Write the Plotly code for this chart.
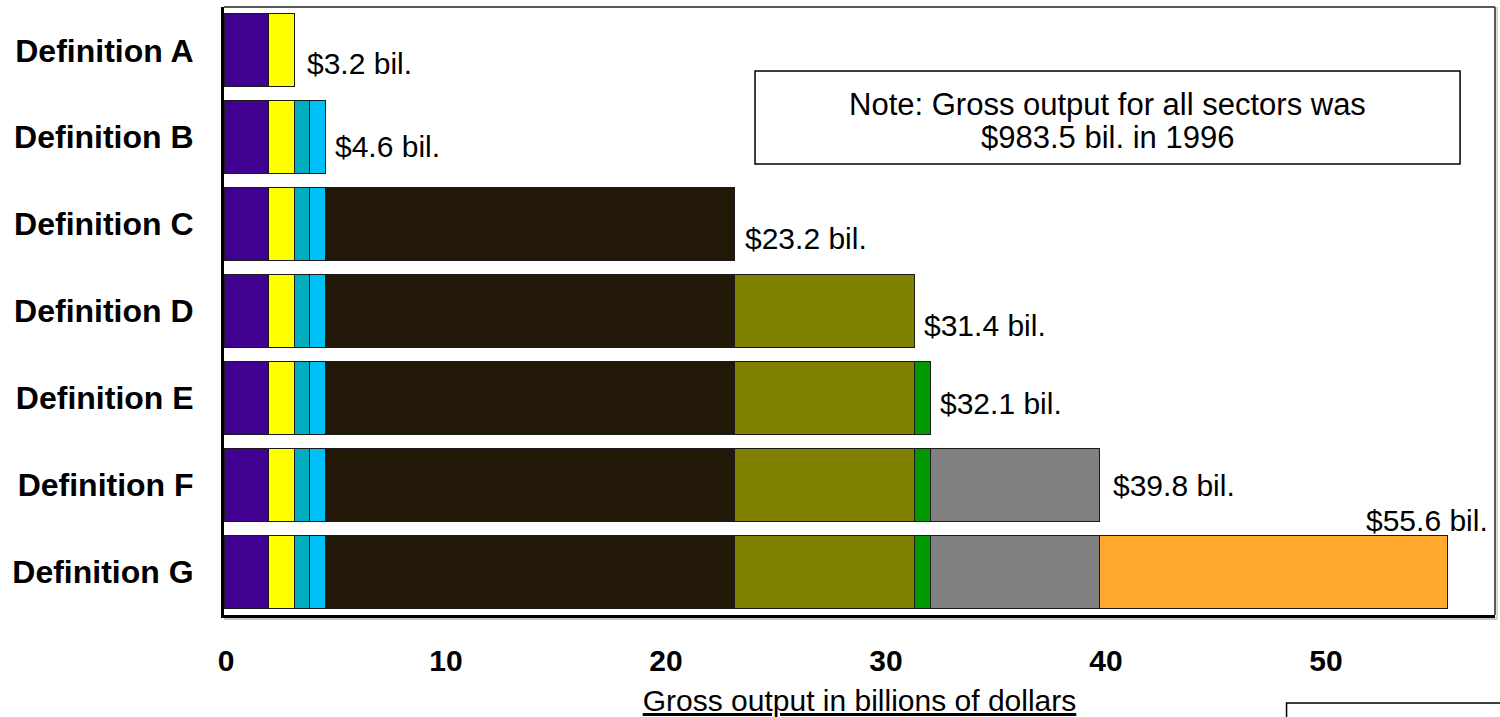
import plotly.graph_objects as go

# ---- data ----
definitions = ["Definition A", "Definition B", "Definition C", "Definition D",
               "Definition E", "Definition F", "Definition G"]
segment_names = ["Seg 1", "Seg 2", "Seg 3", "Seg 4", "Seg 5", "Seg 6", "Seg 7", "Seg 8", "Seg 9"]
segment_values = [2.0, 1.2, 0.7, 0.7, 18.6, 8.2, 0.7, 7.7, 15.8]
# index of the first definition that includes each segment
segment_first_def = [0, 0, 1, 1, 2, 3, 4, 5, 6]
x_ticks = [0, 10, 20, 30, 40, 50]
axis_title = "Gross output in billions of dollars"
note_lines = ["Note: Gross output for all sectors was", "$983.5 bil. in 1996"]

# ---- styles ----
colors = ["#400090", "#FFFF00", "#00AEBE", "#00C0F8", "#211808",
          "#808000", "#009A00", "#808080", "#FFAA2E"]
# label pixel offsets (xshift, yshift, xanchor) per definition
label_offsets = [(11, -13, "left"), (8, -9, "left"), (9, -14, "left"), (7, -14, "left"),
                 (8, -6, "left"), (11, -1, "left"), (43, 51, "right")]
FONT = "Arial, Liberation Sans, sans-serif"

fig = go.Figure()
for i, (name, val) in enumerate(zip(segment_names, segment_values)):
    xs = [val if d >= segment_first_def[i] else None for d in range(len(definitions))]
    fig.add_trace(go.Bar(
        y=definitions, x=xs, orientation="h", name=name,
        marker=dict(color=colors[i], line=dict(color="#1a1a1a", width=1)),
        showlegend=False, hoverinfo="skip"))

totals = []
for d in range(len(definitions)):
    totals.append(round(sum(v for v, f in zip(segment_values, segment_first_def) if d >= f), 1))

for d, tot in enumerate(totals):
    dx, dy, anc = label_offsets[d]
    fig.add_annotation(x=tot, y=definitions[d], xref="x", yref="y",
                       text=f"${tot:.1f} bil.", showarrow=False,
                       xanchor=anc, yanchor="middle", xshift=dx, yshift=dy,
                       font=dict(family=FONT, size=30, color="black"))

# note box
fig.add_shape(type="rect", xref="paper", yref="paper",
              x0=0.4178, x1=0.9725, y0=0.7418, y1=0.8947,
              line=dict(color="black", width=1.5), fillcolor="white", layer="above")
for line_txt, ypos in zip(note_lines, [0.839, 0.785]):
    fig.add_annotation(xref="paper", yref="paper", x=0.695, y=ypos,
                       text=line_txt, showarrow=False,
                       xanchor="center", yanchor="middle", align="center",
                       font=dict(family=FONT, size=31, color="black"))

# frame: top and right thin lines, gray shadows
fig.add_shape(type="line", xref="paper", yref="paper", x0=0, x1=1, y0=1, y1=1,
              line=dict(color="#222", width=1.5))
fig.add_shape(type="line", xref="paper", yref="paper", x0=1, x1=1, y0=0, y1=1,
              line=dict(color="#222", width=1.5))
fig.add_shape(type="line", xref="paper", yref="paper", x0=0, x1=1.0016, y0=-0.0066, y1=-0.0066,
              line=dict(color="#b0b0b0", width=1.5))
fig.add_shape(type="line", xref="paper", yref="paper", x0=1.0016, x1=1.0016, y0=-0.0066, y1=1,
              line=dict(color="#b0b0b0", width=1))
# partial box at bottom right
fig.add_shape(type="rect", xref="paper", yref="paper",
              x0=0.836, x1=1.2, y0=-0.1447, y1=-0.3,
              line=dict(color="black", width=1.5))

fig.update_layout(
    width=1500, height=717,
    margin=dict(l=224, r=5, t=7, b=102),
    paper_bgcolor="white", plot_bgcolor="white",
    barmode="stack", bargap=0.16,
    font=dict(family=FONT, color="black"),
    xaxis=dict(range=[0, 57.77], tickvals=x_ticks, ticktext=[str(t) for t in x_ticks],
               showgrid=False, zeroline=False, ticks="",
               showline=True, linecolor="black", linewidth=3,
               tickfont=dict(family=FONT, size=30, color="black", weight="bold"),
               ticklabelstandoff=17, ticklabelshift=2,
               title=dict(text=f"<u>{axis_title}</u>", standoff=15,
                          font=dict(family=FONT, size=30, color="black"))),
    yaxis=dict(range=[len(definitions) - 0.5, -0.5], type="category",
               categoryorder="array", categoryarray=definitions,
               showgrid=False, zeroline=False, ticks="",
               showline=True, linecolor="black", linewidth=3,
               tickfont=dict(family=FONT, size=32, color="black", weight="bold"),
               ticklabelstandoff=21),
)

fig.write_html("out.html", config={"displayModeBar": False},
               post_script="document.body.style.margin='0px';")
